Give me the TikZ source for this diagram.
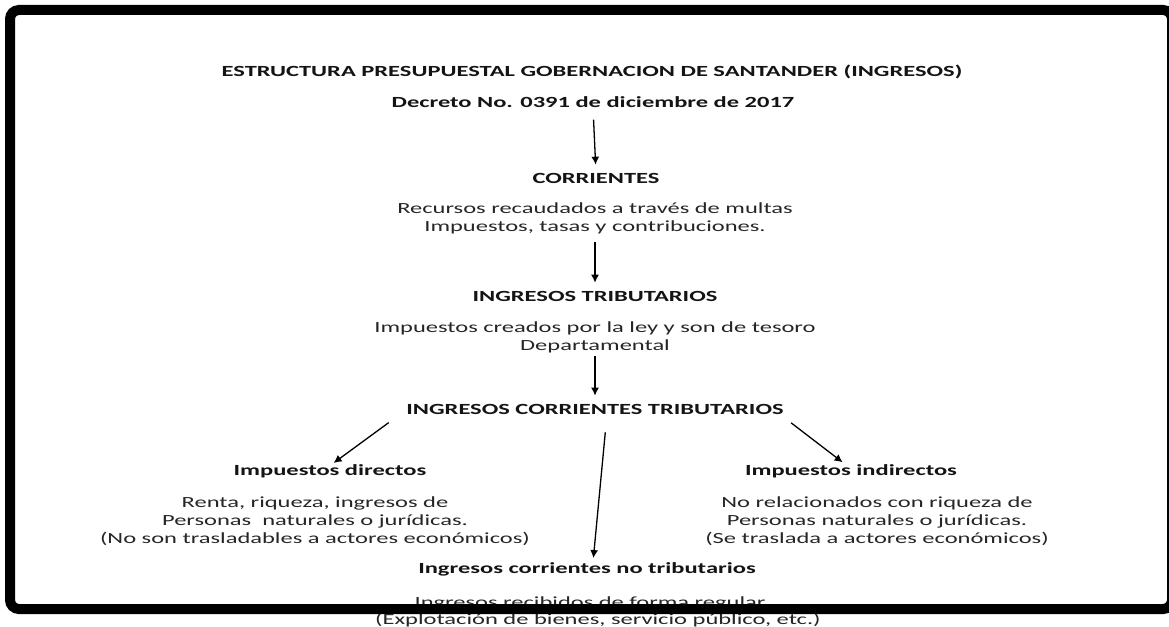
\documentclass[tikz,border=0pt]{standalone}
\usepackage{fontspec}
\setmainfont{Carlito}[FakeStretch=1.58]
\usetikzlibrary{arrows.meta}
\begin{document}
\begin{tikzpicture}[x=1pt,y=-1pt,
  txt/.style={inner sep=0pt,align=center,text=black!85,font=\fontsize{15.5}{18}\selectfont},
  hd/.style={txt,text=black!92,font=\fontsize{15.5}{18}\selectfont\bfseries},
  arr/.style={line width=1.3pt,-{Latex[length=8pt,width=8pt]}},
  frame/.style={line width=10pt,rounded corners=9pt}]
\useasboundingbox (0,0) rectangle (1169,626);
\fill[white] (0,0) rectangle (1169,626);
\node[hd] (title) at (592,72) {ESTRUCTURA PRESUPUESTAL GOBERNACION DE SANTANDER (INGRESOS)};
\node[hd] (dec) at (593,102) {Decreto No. 0391 de diciembre de 2017};
\node[hd] (corr) at (596,178) {CORRIENTES};
\node[txt] (rec) at (595,218) {Recursos recaudados a través de multas\\Impuestos, tasas y contribuciones.};
\node[hd] (trib) at (595,296) {INGRESOS TRIBUTARIOS};
\node[txt] (crea) at (595,337) {Impuestos creados por la ley y son de tesoro\\Departamental};
\node[hd] (ict) at (595,409) {INGRESOS CORRIENTES TRIBUTARIOS};
\node[hd] (dir) at (330,471) {Impuestos directos};
\node[txt] (dirt) at (315,521) {Renta, riqueza, ingresos de\\Personas\ \ naturales o jurídicas.\\(No son trasladables a actores económicos)};
\node[hd] (ind) at (851,471) {Impuestos indirectos};
\node[txt] (indt) at (877,521) {No relacionados con riqueza de\\Personas naturales o jurídicas.\\(Se traslada a actores económicos)};
\node[hd] (nt) at (587,569) {Ingresos corrientes no tributarios};
\node[txt] (ntt) at (590,603) {Ingresos recibidos de forma regular};
\node[txt,anchor=base] (ntt2) at (598,624) {(Explotación de bienes, servicio público, etc.)};
\draw[arr,shorten <=12pt,shorten >=8pt] (dec.south) -- (corr.north);
\draw[arr,shorten <=8pt,shorten >=8pt] (rec.south) -- (trib.north);
\draw[arr,shorten <=3pt,shorten >=8pt] (crea.south) -- (ict.north);
\draw[arr,shorten <=14pt,shorten >=2pt] (ict.south -| 400,0) -- (dir.north -| 332,0);
\draw[arr,shorten <=14pt,shorten >=3pt] (ict.south -| 780,0) -- (ind.north -| 845,0);
\draw[arr,shorten <=18pt,shorten >=4pt] (ict.south -| 607,0) -- (nt.north -| 593,0);
\draw[frame] (10,10) rectangle (1172,609);
\end{tikzpicture}
\end{document}
